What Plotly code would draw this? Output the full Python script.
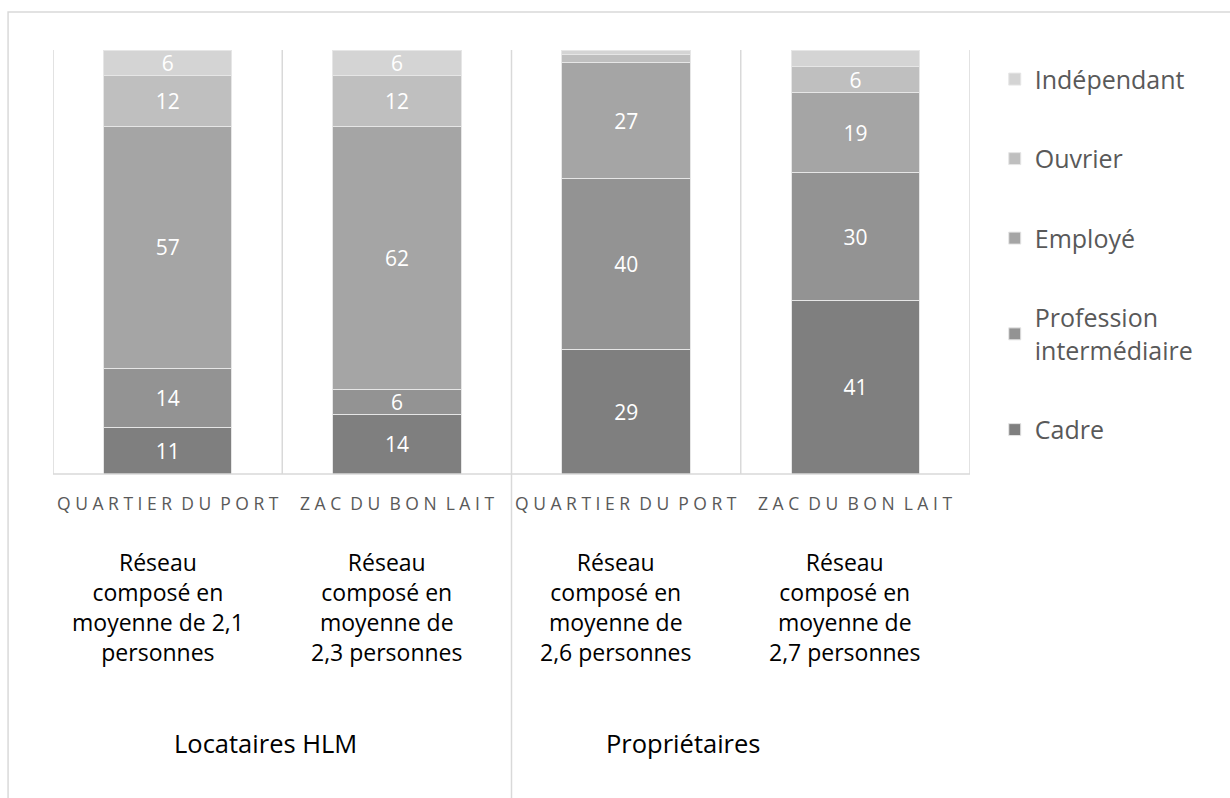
import plotly.graph_objects as go

# --- data ---
groups = ["Locataires HLM", "Locataires HLM", "Propriétaires", "Propriétaires"]
quartiers = ["QUARTIER DU PORT", "ZAC DU BON LAIT", "QUARTIER DU PORT", "ZAC DU BON LAIT"]
reseaux = [
    "Réseau<br>composé en<br>moyenne de 2,1<br>personnes",
    "Réseau<br>composé en<br>moyenne de<br>2,3 personnes",
    "Réseau<br>composé en<br>moyenne de<br>2,6 personnes",
    "Réseau<br>composé en<br>moyenne de<br>2,7 personnes",
]
categories = ["HLM_PORT", "HLM_ZAC", "PROP_PORT", "PROP_ZAC"]

cadre = [11, 14, 29, 41]
profession = [14, 6, 40, 30]
employe = [57, 62, 27, 19]
ouvrier = [12, 12, 2, 6]
independant = [6, 6, 1, 4]

series = [
    ("Cadre", cadre, "#7f7f7f"),
    ("Profession<br>intermédiaire", profession, "#939393"),
    ("Employé", employe, "#a5a5a5"),
    ("Ouvrier", ouvrier, "#bfbfbf"),
    ("Indépendant", independant, "#d4d4d4"),
]

FONT = "Open Sans"
GRID = "#d9d9d9"


def spaced(label):
    # imitate the letter-spaced category labels
    return "\u00a0\u00a0".join(" ".join(word) for word in label.split())


fig = go.Figure()
n = len(series)
for rank, (name, vals, color) in enumerate(series):
    fig.add_trace(go.Bar(
        x=categories, y=vals, name=name, legendgroup=name, legendrank=n - rank,
        marker=dict(color=color, line=dict(color="#e6e6e6", width=1)),
        text=[str(v) if v >= 5 else "" for v in vals],
        textposition="inside", insidetextanchor="middle", textangle=0,
        textfont=dict(color="white", size=21, family=FONT),
        hoverinfo="name+y",
    ))

shapes = []
# vertical separators inside the plot
for k in range(len(categories) + 1):
    shapes.append(dict(type="line", xref="x", yref="paper", x0=k - 0.5, x1=k - 0.5,
                       y0=0, y1=1, line=dict(color=GRID, width=1.5)))
# separator between the two groups, through the label area
shapes.append(dict(type="line", xref="x", yref="paper", x0=1.5, x1=1.5,
                   y0=0, y1=-0.9, line=dict(color=GRID, width=1.5)))
# category axis line
shapes.append(dict(type="line", xref="paper", yref="paper", x0=0, x1=1,
                   y0=0, y1=0, line=dict(color=GRID, width=1.5)))
# chart area border
shapes.append(dict(type="rect", xref="paper", yref="paper", x0=-0.049, x1=1.4,
                   y0=-0.95, y1=1.0896, line=dict(color=GRID, width=1.5)))

annotations = []
for i, cat in enumerate(categories):
    annotations.append(dict(x=cat, y=-0.068, xref="x", yref="paper", text=spaced(quartiers[i]),
                            showarrow=False, yanchor="middle",
                            font=dict(family=FONT, size=17.5, color="#595959")))
    annotations.append(dict(x=cat, y=-0.314, xref="x", yref="paper", text=reseaux[i],
                            showarrow=False, yanchor="middle", xshift=-10,
                            font=dict(family=FONT, size=23, color="#000000")))
annotations.append(dict(x=0.426, y=-0.634, xref="x", yref="paper", text=groups[0],
                        showarrow=False, yanchor="middle",
                        font=dict(family=FONT, size=25.5, color="#000000")))
annotations.append(dict(x=2.247, y=-0.634, xref="x", yref="paper", text=groups[2],
                        showarrow=False, yanchor="middle",
                        font=dict(family=FONT, size=25.5, color="#000000")))

fig.update_layout(
    width=1230, height=798,
    margin=dict(l=53, r=260, t=50, b=324),
    paper_bgcolor="white", plot_bgcolor="white",
    barmode="stack", barnorm="percent", bargap=0.44,
    uniformtext=dict(minsize=18, mode="show"),
    xaxis=dict(type="category", showticklabels=False, showgrid=False, zeroline=False,
               showline=False, ticks="", range=[-0.5, 3.5]),
    yaxis=dict(visible=False, range=[0, 100]),
    legend=dict(x=1.027, y=0.985, xanchor="left", yanchor="top",
                traceorder="grouped", tracegroupgap=44,
                font=dict(family=FONT, size=25, color="#595959"),
                bgcolor="rgba(0,0,0,0)"),
    shapes=shapes, annotations=annotations,
    font=dict(family=FONT),
)

fig.write_html("out.html", config={"displayModeBar": False},
               post_script="document.body.style.margin='0';")
